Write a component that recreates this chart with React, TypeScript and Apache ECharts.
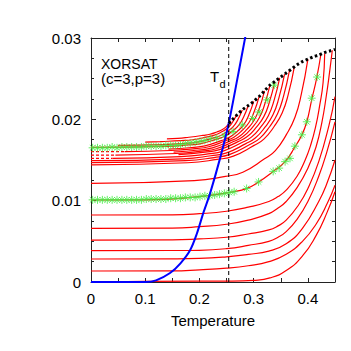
import React, { useEffect, useRef } from "react";
import * as echarts from "echarts";

type P = [number, number];

const TD = 0.254;

// paramagnetic (equilibrium) energy, black dotted
const dottedCurve: P[] = [
  [0.254, 0.0195], [0.26, 0.0199], [0.27, 0.0206], [0.28, 0.0212], [0.29, 0.0217],
  [0.3, 0.0222], [0.31, 0.0228], [0.32, 0.0235], [0.33, 0.0242], [0.34, 0.0247],
  [0.35, 0.0252], [0.36, 0.0257], [0.37, 0.0262], [0.38, 0.0267], [0.39, 0.0271],
  [0.4, 0.0274], [0.41, 0.0277], [0.42, 0.0279], [0.43, 0.0282], [0.44, 0.0284], [0.45, 0.0286],
];

// blue curve
const blueCurve: P[] = [
  [0, 0], [0.1, 0], [0.12, 0.0002], [0.1458, 0.0011], [0.165, 0.0023], [0.1827, 0.0039],
  [0.195, 0.0059], [0.2072, 0.0085], [0.2196, 0.0109], [0.238, 0.0152], [0.2533, 0.0193],
  [0.27, 0.025], [0.287, 0.031],
];

// red state-following curves (upper cluster)
const c1: P[] = [[0, 0.01439], [0.1785, 0.01466], [0.2325, 0.01507], [0.2625, 0.01548], [0.3, 0.01677], [0.3188, 0.01757], [0.3375, 0.01909], [0.3525, 0.02078], [0.3638, 0.02307], [0.375, 0.02645]];
const c2: P[] = [[0, 0.01467], [0.1742, 0.01492], [0.2269, 0.0153], [0.2562, 0.01569], [0.2928, 0.0169], [0.3111, 0.01766], [0.3294, 0.01909], [0.344, 0.02068], [0.355, 0.02283], [0.366, 0.026]];
const c3: P[] = [[0, 0.01492], [0.1699, 0.01515], [0.2213, 0.01552], [0.2499, 0.01588], [0.2856, 0.01701], [0.3035, 0.01773], [0.3213, 0.01907], [0.3356, 0.02055], [0.3463, 0.02257], [0.357, 0.02555]];
const c4: P[] = [[0.04, 0.0152], [0.1656, 0.01542], [0.2158, 0.01575], [0.2436, 0.01609], [0.2784, 0.01715], [0.2958, 0.01781], [0.3132, 0.01906], [0.3271, 0.02045], [0.3376, 0.02233], [0.348, 0.0251]];
const c5: P[] = [[0.1614, 0.01565], [0.2102, 0.01597], [0.2373, 0.01628], [0.2712, 0.01726], [0.2882, 0.01788], [0.3051, 0.01904], [0.3187, 0.02033], [0.3288, 0.02207], [0.339, 0.02465]];
const c6: P[] = [[0.045, 0.01561], [0.1571, 0.0158], [0.2046, 0.01609], [0.231, 0.01638], [0.264, 0.0173], [0.2805, 0.01788], [0.297, 0.01896], [0.3102, 0.02016], [0.3201, 0.0218], [0.33, 0.0242]];
const c7: P[] = [[0.1523, 0.01597], [0.1984, 0.01623], [0.224, 0.01649], [0.256, 0.01732], [0.272, 0.01783], [0.288, 0.0188], [0.3008, 0.01988], [0.3104, 0.02134], [0.32, 0.0235]];
const c8: P[] = [[0.062, 0.01602], [0.1476, 0.01617], [0.1922, 0.0164], [0.217, 0.01663], [0.248, 0.01736], [0.2635, 0.01781], [0.279, 0.01866], [0.2914, 0.01961], [0.3007, 0.0209], [0.31, 0.0228]];
const c9: P[] = [[0.1428, 0.01633], [0.186, 0.01654], [0.21, 0.01674], [0.24, 0.01738], [0.255, 0.01778], [0.27, 0.01854], [0.282, 0.01938], [0.291, 0.02052], [0.3, 0.0222]];
const c10: P[] = [[0, 0.01656], [0.138, 0.01667], [0.1798, 0.01685], [0.203, 0.01702], [0.232, 0.01757], [0.2465, 0.01792], [0.261, 0.01857], [0.2726, 0.01928], [0.2813, 0.02026], [0.29, 0.0217]];
const c11: P[] = [[0.05, 0.0168], [0.1328, 0.0169], [0.173, 0.01704], [0.1953, 0.01719], [0.2232, 0.01766], [0.2372, 0.01795], [0.2511, 0.0185], [0.2623, 0.01911], [0.2706, 0.01993], [0.279, 0.02115]];
const c12: P[] = [[0.1, 0.0172], [0.1276, 0.01727], [0.1662, 0.01738], [0.1876, 0.01749], [0.2144, 0.01784], [0.2278, 0.01806], [0.2412, 0.01847], [0.2519, 0.01893], [0.26, 0.01955], [0.268, 0.02046]];
const c13: P[] = [[0.14, 0.0176], [0.16, 0.01765], [0.1806, 0.0178], [0.2064, 0.01803], [0.2193, 0.01817], [0.2322, 0.01845], [0.2425, 0.01875], [0.2503, 0.01916], [0.258, 0.01977]];

// short dashed lead-ins at low temperature
const leadA: P[] = [[0, 0.0152], [0.04, 0.0152]];
const leadB: P[] = [[0, 0.01561], [0.045, 0.01561]];
const leadC: P[] = [[0, 0.01602], [0.062, 0.01602]];

// red curves (lower family)
const l1: P[] = [[0, 0.01213], [0.1904, 0.01247], [0.248, 0.01299], [0.28, 0.0135], [0.32, 0.01514], [0.34, 0.01616], [0.36, 0.01809], [0.376, 0.02022], [0.388, 0.02312], [0.4, 0.0274]];
const l2: P[] = [[0, 0.01008], [0.1, 0.0101], [0.2, 0.0105], [0.262, 0.0111], [0.287, 0.0115], [0.309, 0.0123], [0.336, 0.0136], [0.358, 0.0148], [0.376, 0.0166], [0.389, 0.0181], [0.398, 0.0197], [0.407, 0.0224], [0.416, 0.025], [0.424, 0.028]];
const l3: P[] = [[0, 0.00824], [0.15, 0.00826], [0.2, 0.0084], [0.25, 0.0087], [0.29, 0.0092], [0.328, 0.0099], [0.345, 0.0105], [0.36, 0.0113], [0.38, 0.013], [0.395, 0.015], [0.405, 0.0168], [0.414, 0.019], [0.422, 0.0218], [0.428, 0.0245], [0.431, 0.0281]];
const l4: P[] = [[0, 0.0066], [0.15, 0.00663], [0.2, 0.0068], [0.25, 0.0071], [0.29, 0.0076], [0.328, 0.0084], [0.345, 0.0091], [0.36, 0.0099], [0.38, 0.0116], [0.4, 0.014], [0.415, 0.0166], [0.426, 0.0197], [0.434, 0.0229], [0.44, 0.0258], [0.445, 0.0285]];
const l5: P[] = [[0, 0.00516], [0.15, 0.00518], [0.2, 0.0053], [0.25, 0.0055], [0.29, 0.0059], [0.328, 0.0064], [0.345, 0.0069], [0.36, 0.0076], [0.383, 0.0095], [0.4, 0.0115], [0.42, 0.0148], [0.439, 0.0193], [0.45, 0.0228]];
const l6: P[] = [[0, 0.00385], [0.15, 0.00387], [0.2, 0.0039], [0.25, 0.0041], [0.29, 0.0045], [0.328, 0.005], [0.345, 0.0055], [0.36, 0.0062], [0.38, 0.0077], [0.4, 0.0099], [0.42, 0.013], [0.435, 0.016], [0.45, 0.0197]];
const l7: P[] = [[0, 0.00283], [0.15, 0.00285], [0.2, 0.0029], [0.25, 0.0031], [0.29, 0.0034], [0.328, 0.0038], [0.36, 0.0047], [0.39, 0.0066], [0.42, 0.0099], [0.435, 0.0121], [0.45, 0.015]];
const l8: P[] = [[0, 0.00135], [0.15, 0.00137], [0.2, 0.0015], [0.25, 0.0017], [0.29, 0.002], [0.328, 0.0025], [0.36, 0.0034], [0.39, 0.005], [0.415, 0.0071], [0.436, 0.0097], [0.45, 0.0119]];
const l9: P[] = [[0, 0], [0.2, 0.0001], [0.26, 0.0001], [0.3, 0.0002], [0.33, 0.0005], [0.36, 0.0014], [0.39, 0.0032], [0.415, 0.0057], [0.435, 0.0085], [0.45, 0.0111]];

const redCurves: P[][] = [c1, c2, c3, c4, c5, c6, c7, c8, c9, c10, c11, c12, c13, l1, l2, l3, l4, l5, l6, l7, l8, l9];
const dashedLeads: P[][] = [leadA, leadB, leadC];

// green simulation points
const greenUpperT = [0.003, 0.012, 0.021, 0.03, 0.039, 0.048, 0.057, 0.066, 0.075, 0.084, 0.093, 0.102, 0.111, 0.12, 0.129, 0.138, 0.147, 0.156, 0.165, 0.174, 0.183, 0.192, 0.201, 0.21, 0.22, 0.232, 0.246, 0.262, 0.279, 0.298, 0.31, 0.325, 0.338];
const greenUpperE = [0.0165, 0.0165, 0.0165, 0.0165, 0.0166, 0.0165, 0.0166, 0.0166, 0.0166, 0.0166, 0.0166, 0.0167, 0.0167, 0.0167, 0.0167, 0.0168, 0.0168, 0.0168, 0.0169, 0.017, 0.0171, 0.0172, 0.0173, 0.0174, 0.0176, 0.0177, 0.018, 0.0185, 0.0193, 0.0201, 0.0209, 0.0224, 0.0242];
const greenLowerT = [0.003, 0.012, 0.021, 0.03, 0.039, 0.048, 0.057, 0.066, 0.075, 0.084, 0.093, 0.102, 0.111, 0.12, 0.129, 0.138, 0.147, 0.156, 0.165, 0.174, 0.183, 0.192, 0.201, 0.21, 0.219, 0.228, 0.237, 0.246, 0.255, 0.264, 0.287, 0.309, 0.336, 0.347, 0.358, 0.367, 0.376, 0.389, 0.398, 0.407, 0.417];
const greenLowerE = [0.0101, 0.0101, 0.0101, 0.0101, 0.0101, 0.0101, 0.0101, 0.0101, 0.0101, 0.0101, 0.0101, 0.0102, 0.0102, 0.0102, 0.0102, 0.0102, 0.0103, 0.0103, 0.0103, 0.0104, 0.0104, 0.0104, 0.0105, 0.0106, 0.0106, 0.0107, 0.0108, 0.0109, 0.011, 0.0111, 0.0115, 0.0123, 0.0136, 0.014, 0.0148, 0.0152, 0.0167, 0.0181, 0.0197, 0.0226, 0.0252];

const FONT = "Liberation Sans";
const AX = "#222";
const STAR = "path://M5,0L5,10M0,5L10,5M1.5,1.5L8.5,8.5M1.5,8.5L8.5,1.5";

export default function App() {
  const ref = useRef<HTMLDivElement>(null);
  useEffect(() => {
    if (!ref.current) return;
    const chart = echarts.init(ref.current, null, { renderer: "svg" });
    const axisCommon = {
      type: "value" as const,
      splitLine: { show: false },
      axisLine: { show: true, onZero: false, lineStyle: { color: AX, width: 1 } },
    };
    const xFmt = (v: number) => (Math.round(v * 100) % 10 === 0 ? String(Math.round(v * 10) / 10) : "");
    const yFmt = (v: number) => String(Math.round(v * 100) / 100);
    const lineSeries = redCurves.map((d) => ({
      type: "line",
      data: d,
      smooth: 0.5,
      showSymbol: false,
      symbol: "none",
      lineStyle: { color: "#ff0000", width: 1.2 },
      silent: true,
      z: 2,
    }));
    const leadSeries = dashedLeads.map((d) => ({
      type: "line",
      data: d,
      showSymbol: false,
      symbol: "none",
      lineStyle: { color: "#ff0000", width: 1.2, type: [3, 2] },
      silent: true,
      z: 2,
    }));
    const starStyle = { color: "transparent", borderColor: "#44ee44", borderWidth: 1 };
    chart.setOption({
      animation: false,
      grid: { left: 91, top: 38, width: 244, height: 244 },
      xAxis: [
        {
          ...axisCommon,
          position: "bottom",
          min: 0,
          max: 0.45,
          interval: 0.05,
          axisTick: { inside: true, length: 4, lineStyle: { color: AX } },
          axisLabel: { formatter: xFmt, fontSize: 15, color: "#000", fontFamily: FONT, margin: 9 },
          name: "Temperature",
          nameLocation: "middle",
          nameGap: 31,
          nameTextStyle: { fontSize: 15, color: "#000", fontFamily: FONT },
        },
        {
          ...axisCommon,
          position: "top",
          min: 0,
          max: 0.45,
          interval: 0.05,
          axisTick: { inside: true, length: 4, lineStyle: { color: AX } },
          axisLabel: { show: false },
        },
      ],
      yAxis: [
        {
          ...axisCommon,
          position: "left",
          min: 0,
          max: 0.03,
          interval: 0.01,
          axisTick: { inside: true, length: 5, lineStyle: { color: AX } },
          minorTick: { show: true, splitNumber: 4, length: 3, lineStyle: { color: AX } },
          axisLabel: { formatter: yFmt, fontSize: 15, color: "#000", fontFamily: FONT, margin: 10 },
        },
        {
          ...axisCommon,
          position: "right",
          min: 0,
          max: 0.03,
          interval: 0.01,
          axisTick: { inside: true, length: 5, lineStyle: { color: AX } },
          minorTick: { show: true, splitNumber: 4, length: 3, lineStyle: { color: AX } },
          axisLabel: { show: false },
        },
      ],
      series: [
        ...lineSeries,
        ...leadSeries,
        {
          type: "scatter",
          data: greenUpperT.map((t, i) => [t, greenUpperE[i]]),
          symbol: STAR,
          symbolSize: 8,
          itemStyle: starStyle,
          silent: true,
          z: 3,
        },
        {
          type: "scatter",
          data: greenLowerT.map((t, i) => [t, greenLowerE[i]]),
          symbol: STAR,
          symbolSize: 8,
          itemStyle: starStyle,
          silent: true,
          z: 3,
        },
        {
          type: "line",
          data: blueCurve,
          smooth: 0.3,
          showSymbol: false,
          symbol: "none",
          lineStyle: { color: "#0000ff", width: 2 },
          silent: true,
          z: 4,
        },
        {
          type: "line",
          data: dottedCurve,
          smooth: 0.3,
          showSymbol: false,
          symbol: "none",
          lineStyle: { color: "#000", width: 3, type: [2.5, 2.5], cap: "butt" },
          silent: true,
          z: 5,
        },
        {
          type: "line",
          data: [[TD, 0], [TD, 0.03]],
          showSymbol: false,
          symbol: "none",
          lineStyle: { color: "#000", width: 1, type: [4, 3] },
          silent: true,
          z: 5,
        },
      ],
      graphic: [
        { type: "text", x: 101, y: 63.5, style: { text: "XORSAT", font: `14px "${FONT}"`, fill: "#000", verticalAlign: "middle" } },
        { type: "text", x: 101, y: 78.5, style: { text: "(c=3,p=3)", font: `15px "${FONT}"`, fill: "#000", verticalAlign: "middle" } },
        { type: "text", x: 210, y: 76.5, style: { text: "T", font: `15px "${FONT}"`, fill: "#000", verticalAlign: "middle" } },
        { type: "text", x: 219.5, y: 83.5, style: { text: "d", font: `11px "${FONT}"`, fill: "#000", verticalAlign: "middle" } },
      ],
    });
    return () => chart.dispose();
  }, []);
  return <div ref={ref} style={{ position: "absolute", left: 0, top: 0, width: 351, height: 351 }} />;
}
